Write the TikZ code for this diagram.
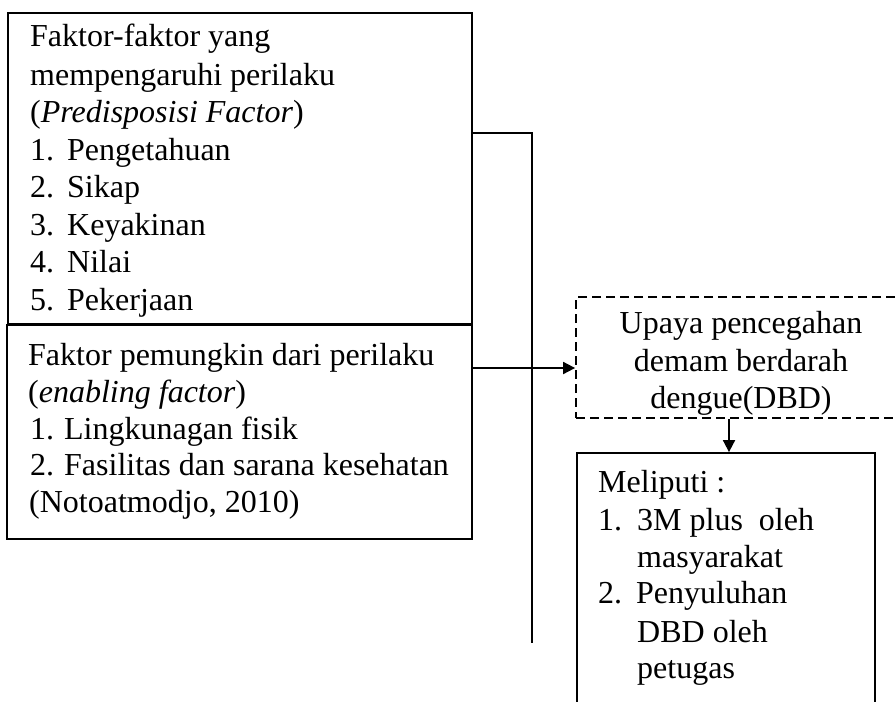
\documentclass[tikz,border=0pt]{standalone}
\usepackage{fontspec}
\setmainfont{Liberation Serif}
\usetikzlibrary{arrows.meta,calc}
\newcommand{\myitem}[3]{\makebox[#1][l]{#2}#3}
\begin{document}
\begin{tikzpicture}[x=1pt,y=-1pt,
  box/.style={draw, line width=1.8pt, rectangle, inner sep=0pt},
  dbox/.style={draw, line width=1.8pt, rectangle, inner sep=0pt, dash pattern=on 9pt off 5pt},
  txt/.style={anchor=base west, inner sep=0pt, font=\fontsize{32}{37.5}\selectfont},
  ctxt/.style={anchor=base, inner sep=0pt, font=\fontsize{32}{37.5}\selectfont},
  conn/.style={line width=1.8pt},
  arr/.style={line width=1.8pt, -{Triangle[length=12pt,width=12pt]}}]
\useasboundingbox (0,0) rectangle (896,701);
\clip (0,0) rectangle (896,701);
% boxes
\node[box, minimum width=464pt, minimum height=311pt] (b1) at (240,168.5) {};
\node[box, minimum width=465pt, minimum height=214pt] (b2) at (239.5,432) {};
\node[dbox, minimum width=330pt, minimum height=121pt] (d) at (741,357.5) {};
\node[box, minimum width=298pt, minimum height=300pt] (b3) at (726,603) {};
% box 1 text
\node[txt] (t11) at (30,47) {Faktor-faktor yang};
\node[txt] (t12) at (30,85) {mempengaruhi perilaku};
\node[txt] (t13) at (30,122) {(\textit{Predisposisi Factor})};
\node[txt] (t14) at (30,160) {\myitem{37pt}{1.}{Pengetahuan}};
\node[txt] (t15) at (30,197) {\myitem{37pt}{2.}{Sikap}};
\node[txt] (t16) at (30,235) {\myitem{37pt}{3.}{Keyakinan}};
\node[txt] (t17) at (30,272) {\myitem{37pt}{4.}{Nilai}};
\node[txt] (t18) at (30,310) {\myitem{37pt}{5.}{Pekerjaan}};
% box 2 text
\node[txt] (t21) at (28,365) {Faktor pemungkin dari perilaku};
\node[txt] (t22) at (28,402) {(\textit{enabling factor})};
\node[txt] (t23) at (30,439) {\myitem{34pt}{1.}{Lingkunagan fisik}};
\node[txt] (t24) at (30,475) {\myitem{34pt}{2.}{Fasilitas dan sarana kesehatan}};
\node[txt] (t25) at (29,512) {(Notoatmodjo, 2010)};
% dashed box text
\node[ctxt] (t31) at (741,333) {Upaya pencegahan};
\node[ctxt] (t32) at (741,371) {demam berdarah};
\node[ctxt] (t33) at (741,408) {dengue(DBD)};
% box 3 text
\node[txt] (t41) at (598,492) {Meliputi :};
\node[txt] (t42) at (598,530) {\myitem{39pt}{1.}{3M plus\ \ oleh}};
\node[txt] (t43) at (637,567) {masyarakat};
\node[txt] (t44) at (598,603) {\myitem{38pt}{2.}{Penyuluhan}};
\node[txt] (t45) at (637,642) {DBD oleh};
\node[txt] (t46) at (637,678) {petugas};
% connectors
\coordinate (j1) at (532,133);
\coordinate (j2) at (532,643);
\coordinate (ay) at (0,368);
\coordinate (ax) at (729,0);
\draw[conn] (b1.east |- j1) -- (j1) -- (j2);
\draw[arr] (b2.east |- ay) -- (d.west |- ay);
\draw[arr] (d.south -| ax) -- (b3.north -| ax);
\end{tikzpicture}
\end{document}
